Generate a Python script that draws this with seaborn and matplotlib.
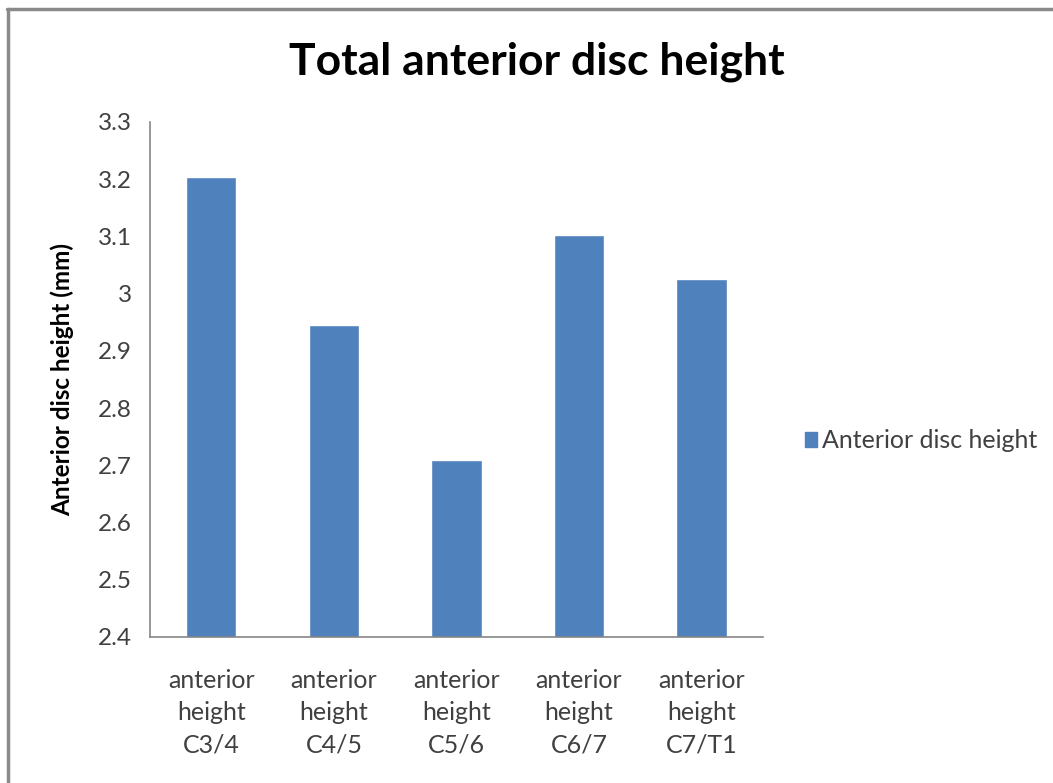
import matplotlib
matplotlib.use("Agg")
import matplotlib.pyplot as plt
from matplotlib.lines import Line2D
from matplotlib.patches import Patch
import seaborn as sns
import pandas as pd

# Chart data
categories = ["anterior\nheight\nC3/4", "anterior\nheight\nC4/5", "anterior\nheight\nC5/6",
              "anterior\nheight\nC6/7", "anterior\nheight\nC7/T1"]
disc_height = [3.204, 2.945, 2.709, 3.103, 3.026]
y_ticks = [2.4, 2.5, 2.6, 2.7, 2.8, 2.9, 3.0, 3.1, 3.2, 3.3]
y_tick_labels = ["2.4", "2.5", "2.6", "2.7", "2.8", "2.9", "3", "3.1", "3.2", "3.3"]
series_name = "Anterior disc height"

sns.set_theme(style="white")
plt.rcParams["font.family"] = ["Lato", "DejaVu Sans"]

BAR = "#4F81BD"
AXIS = "#868686"
TEXT = "#404040"

df = pd.DataFrame({"segment": categories, "height": disc_height})

fig = plt.figure(figsize=(10.53, 7.83), dpi=100)
ax = fig.add_axes([0.1425, 0.1865, 0.582, 0.6577])

sns.barplot(data=df, x="segment", y="height", color=BAR, width=0.41,
            saturation=1, ax=ax, zorder=2)

ax.set_ylim(2.4, 3.3)
ax.set_xlim(-0.5, len(categories) - 0.5)
ax.set_yticks(y_ticks)
ax.set_yticklabels(y_tick_labels, fontsize=17.5, color=TEXT)
ax.set_xticks(range(len(categories)))
ax.set_xticklabels(categories, fontsize=18, color=TEXT, linespacing=1.48)
ax.set_xticks([i - 0.5 for i in range(len(categories) + 1)], minor=True)

ax.tick_params(axis="x", which="major", length=0, pad=23)
ax.tick_params(axis="x", which="minor", length=6, width=1, color=AXIS, direction="out")
ax.tick_params(axis="y", which="major", length=5, width=1, color=AXIS, direction="out", pad=8)

for side in ("top", "right"):
    ax.spines[side].set_visible(False)
for side in ("left", "bottom"):
    ax.spines[side].set_color(AXIS)
    ax.spines[side].set_linewidth(1.2)

ax.set_xlabel("")
ax.set_ylabel("Anterior disc height (mm)", fontsize=17.5, fontweight="bold",
              color="black", labelpad=17)

fig.text(0.51, 0.921, "Total anterior disc height", ha="center", va="center",
         fontsize=32, fontweight="bold", color="black")

handle = Patch(facecolor=BAR, edgecolor=BAR)
fig.legend([handle], [series_name], loc="center left", bbox_to_anchor=(0.743, 0.437),
           frameon=False, fontsize=18, handlelength=0.5, handleheight=0.5,
           handletextpad=0.2, labelcolor=TEXT)

# Frame around the chart area
fig.add_artist(Line2D([0.007, 1.0], [0.988, 0.988], transform=fig.transFigure,
                      color="#8a8a8a", linewidth=2.5))
fig.add_artist(Line2D([0.0075, 0.0075], [0.0, 0.988], transform=fig.transFigure,
                      color="#8a8a8a", linewidth=2.5))

fig.savefig("out.png", dpi=100, facecolor="white")
